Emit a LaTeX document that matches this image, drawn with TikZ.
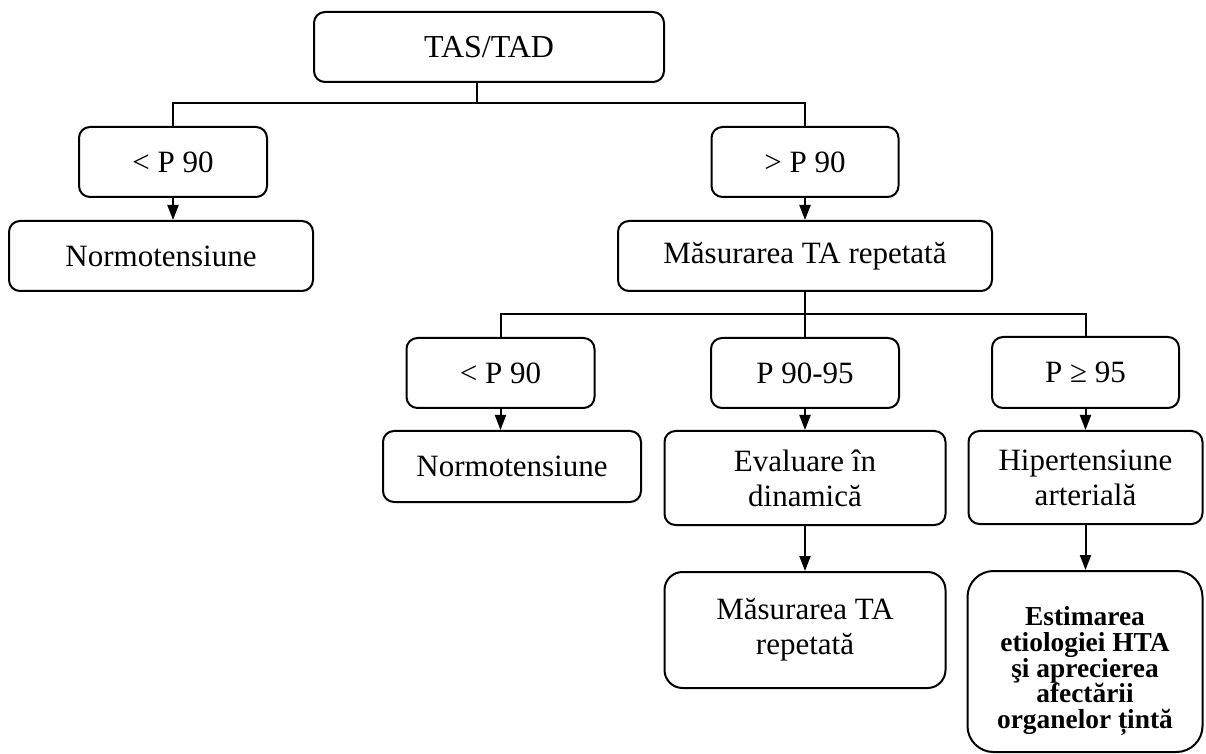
\documentclass[tikz,border=0pt]{standalone}
\usepackage{fontspec}
\setmainfont{Liberation Serif}
\usetikzlibrary{arrows.meta}
\begin{document}
\begin{tikzpicture}[x=0.5pt,y=-0.5pt,
  box/.style={draw, line width=1pt, rounded corners=5.5pt, inner sep=0pt, align=center,
              font=\fontsize{15.5}{17.5}\selectfont},
  conn/.style={line width=1pt},
  arr/.style={line width=1pt, -{Triangle[length=7.5pt,width=5.5pt]}}]
\useasboundingbox (0,0) rectangle (1206,754);
% level 0
\node[box, minimum width=175pt, minimum height=35pt, font=\fontsize{16}{18}\selectfont] (tas) at (489,47) {TAS/TAD};
% level 1
\node[box, minimum width=94pt, minimum height=35pt] (lt1) at (173,162) {< P 90};
\node[box, minimum width=93.5pt, minimum height=35pt] (gt1) at (805,162) {> P 90};
\node[box, minimum width=152pt, minimum height=35pt] (norm1) at (161,256) {Normotensiune};
\node[box, minimum width=187pt, minimum height=35pt] (mas1) at (805,256) {Măsurarea TA repetată};
% level 2
\node[box, minimum width=94pt, minimum height=35pt] (lt2) at (500.5,373) {< P 90};
\node[box, minimum width=94pt, minimum height=35pt] (p9095) at (805,373) {P 90-95};
\node[box, minimum width=93.5pt, minimum height=35.5pt] (pge95) at (1085.5,372.5) {P ≥ 95};
\node[box, minimum width=129pt, minimum height=35.5pt] (norm2) at (512,466.5) {Normotensiune};
\node[box, minimum width=140.5pt, minimum height=47pt] (eval) at (805,478) {Evaluare în\\dinamică};
\node[box, minimum width=117pt, minimum height=46.5pt] (hip) at (1085.5,477.5) {Hipertensiune\\arterială};
\node[box, rounded corners=9pt, minimum width=140.5pt, minimum height=58pt] (mas2) at (805,630) {Măsurarea TA\\repetată};
\node[box, rounded corners=13pt, minimum width=117.5pt, minimum height=90.5pt,
      font=\fontsize{13.7}{12.9}\selectfont\bfseries] (est) at (1085,661.5)
      {\rule{0pt}{19pt}Estimarea\\etiologiei HTA\\şi aprecierea\\afectării\\organelor țintă};
% connectors
\coordinate (j1) at (477,103);
\coordinate (j2) at (805,314);
\draw[conn] ([xshift=-6pt]tas.south) -- (j1);
\draw[conn] (lt1.north) |- (j1) -| (gt1.north);
\draw[arr] (lt1.south) -- (lt1.south |- norm1.north);
\draw[arr] (gt1.south) -- (gt1.south |- mas1.north);
\draw[conn] (mas1.south) -- (p9095.north);
\draw[conn] (lt2.north) |- (j2) -| (pge95.north);
\draw[arr] (lt2.south) -- (lt2.south |- norm2.north);
\draw[arr] (p9095.south) -- (p9095.south |- eval.north);
\draw[arr] (pge95.south) -- (pge95.south |- hip.north);
\draw[arr] (eval.south) -- (eval.south |- mas2.north);
\draw[arr] (hip.south) -- (hip.south |- est.north);
\end{tikzpicture}
\end{document}
